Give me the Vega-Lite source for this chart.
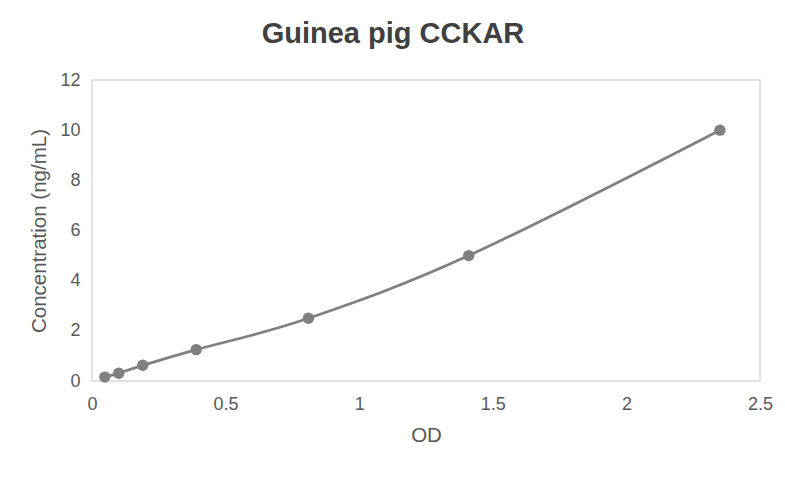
{
  "$schema": "https://vega.github.io/schema/vega-lite/v6.json",
  "autosize": {"type": "none"},
  "padding": {"left": 92, "top": 80, "right": 25, "bottom": 96},
  "width": 668,
  "height": 301,
  "background": "white",
  "title": {
    "text": "Guinea pig CCKAR",
    "font": "Liberation Sans",
    "fontSize": 29,
    "fontWeight": "bold",
    "color": "#404040",
    "anchor": "middle",
    "dx": -33,
    "offset": 22
  },
  "config": {
    "view": {"stroke": "#d9d9d9", "strokeWidth": 1.5},
    "axis": {
      "labelFont": "Liberation Sans",
      "titleFont": "Liberation Sans",
      "labelFontSize": 18,
      "titleFontSize": 20.5,
      "titleFontWeight": "normal",
      "labelColor": "#595959",
      "titleColor": "#595959",
      "grid": false,
      "domain": false,
      "ticks": false
    }
  },
  "data": {
    "values": [
      {"od": 0.048, "conc": 0.156},
      {"od": 0.1, "conc": 0.312},
      {"od": 0.19, "conc": 0.625},
      {"od": 0.39, "conc": 1.25},
      {"od": 0.81, "conc": 2.5},
      {"od": 1.41, "conc": 5},
      {"od": 2.35, "conc": 10}
    ]
  },
  "encoding": {
    "x": {
      "field": "od", "type": "quantitative",
      "scale": {"domain": [0, 2.5], "nice": false, "zero": true},
      "axis": {"title": "OD", "values": [0, 0.5, 1, 1.5, 2, 2.5], "format": "~g", "labelPadding": 14, "titlePadding": 12, "labelFlush": false}
    },
    "y": {
      "field": "conc", "type": "quantitative",
      "scale": {"domain": [0, 12], "nice": false},
      "axis": {"title": "Concentration (ng/mL)", "values": [0, 2, 4, 6, 8, 10, 12], "labelPadding": 12, "titlePadding": 10, "labelFlush": false}
    }
  },
  "layer": [
    {"mark": {"type": "line", "interpolate": "cardinal", "color": "#808080", "strokeWidth": 2.75}},
    {"mark": {"type": "point", "filled": true, "opacity": 1, "color": "#808080", "size": 130}}
  ]
}
